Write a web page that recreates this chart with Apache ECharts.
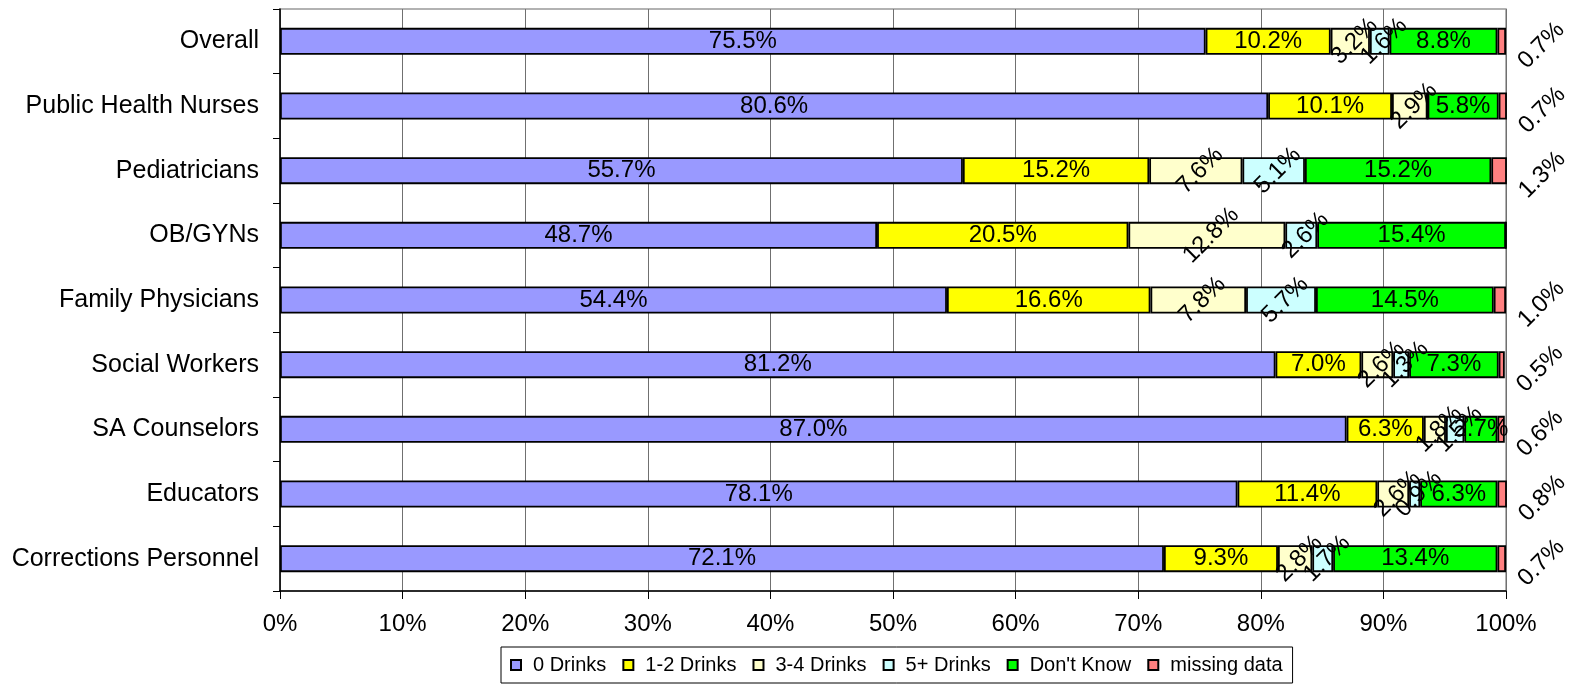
<!DOCTYPE html>
<html>
<head>
<meta charset="utf-8">
<script src="https://cdn.jsdelivr.net/npm/echarts@6/dist/echarts.min.js"></script>
<style>
  html, body { margin: 0; padding: 0; background: #fff; }
  #chart { width: 1574px; height: 685px; }
</style>
</head>
<body>
<div id="chart"></div>
<script>
// Professions, top to bottom
const categories = ['Overall', 'Public Health Nurses', 'Pediatricians', 'OB/GYNs', 'Family Physicians',
  'Social Workers', 'SA Counselors', 'Educators', 'Corrections Personnel'];

// Percent of respondents per answer
const zeroDrinks = [75.5, 80.6, 55.7, 48.7, 54.4, 81.2, 87.0, 78.1, 72.1];
const oneTwoDrinks = [10.2, 10.1, 15.2, 20.5, 16.6, 7.0, 6.3, 11.4, 9.3];
const threeFourDrinks = [3.2, 2.9, 7.6, 12.8, 7.8, 2.6, 1.8, 2.6, 2.8];
const fivePlusDrinks = [1.6, 0, 5.1, 2.6, 5.7, 1.3, 1.5, 0.9, 1.7];
const dontKnow = [8.8, 5.8, 15.2, 15.4, 14.5, 7.3, 2.7, 6.3, 13.4];
const missingData = [0.7, 0.7, 1.3, 0, 1.0, 0.5, 0.6, 0.8, 0.7];

const FONT = "'Liberation Sans', Arial, sans-serif";

function pct(p) {
  return p.value ? p.value.toFixed(1) + '%' : '';
}

// label styles: flat, rotated inside, rotated outside right
const flatLabel = { show: true, position: 'inside', formatter: pct, color: '#000', fontSize: 24, fontFamily: FONT };
const tiltLabel = Object.assign({}, flatLabel, { rotate: 45, offset: [3, 3] });
const outLabel = Object.assign({}, flatLabel, {
  position: 'right', distance: 0, rotate: 45, align: 'center', verticalAlign: 'middle', offset: [22, 28]
});

function makeSeries(name, data, color, label) {
  return {
    name: name,
    type: 'bar',
    stack: 'all',
    data: data,
    barWidth: 27,
    itemStyle: { color: color, borderColor: '#000', borderWidth: 1.8 },
    label: label,
    emphasis: { disabled: true }
  };
}

const chart = echarts.init(document.getElementById('chart'));

chart.setOption({
  animation: false,
  textStyle: { fontFamily: FONT },
  grid: {
    left: 280, right: 68, top: 9, bottom: 94,
    show: true, borderColor: '#999', borderWidth: 1.5
  },
  legend: {
    left: 501, top: 647,
    padding: [8, 10, 8, 9],
    borderColor: '#000', borderWidth: 1,
    itemWidth: 10, itemHeight: 10, itemGap: 16,
    icon: 'rect',
    textStyle: { fontSize: 20, color: '#000', fontFamily: FONT, padding: [0, 0, 0, 7] },
    data: ['0 Drinks', '1-2 Drinks', '3-4 Drinks', '5+ Drinks', "Don't Know", 'missing data']
  },
  xAxis: {
    type: 'value',
    min: 0, max: 100, interval: 10,
    axisLine: { show: true, lineStyle: { color: '#000', width: 1.5 } },
    axisTick: { show: true, length: 8, lineStyle: { color: '#000' } },
    axisLabel: { formatter: '{value}%', fontSize: 24, color: '#000', margin: 21 },
    splitLine: { show: true, lineStyle: { color: '#707070', width: 1 } }
  },
  yAxis: {
    type: 'category',
    inverse: true,
    data: categories,
    axisLine: { show: true, lineStyle: { color: '#000', width: 1.5 } },
    axisTick: { show: true, length: 7, lineStyle: { color: '#000' } },
    axisLabel: { fontSize: 25, color: '#000', margin: 21 },
    splitLine: { show: false }
  },
  series: [
    makeSeries('0 Drinks', zeroDrinks, '#9999FF', flatLabel),
    makeSeries('1-2 Drinks', oneTwoDrinks, '#FFFF00', flatLabel),
    makeSeries('3-4 Drinks', threeFourDrinks, '#FFFFCC', tiltLabel),
    makeSeries('5+ Drinks', fivePlusDrinks, '#CCFFFF', tiltLabel),
    makeSeries("Don't Know", dontKnow, '#00FF00', flatLabel),
    makeSeries('missing data', missingData, '#FF8080', outLabel)
  ]
});

window.addEventListener('resize', function () {
  chart.resize();
});
</script>
</body>
</html>
